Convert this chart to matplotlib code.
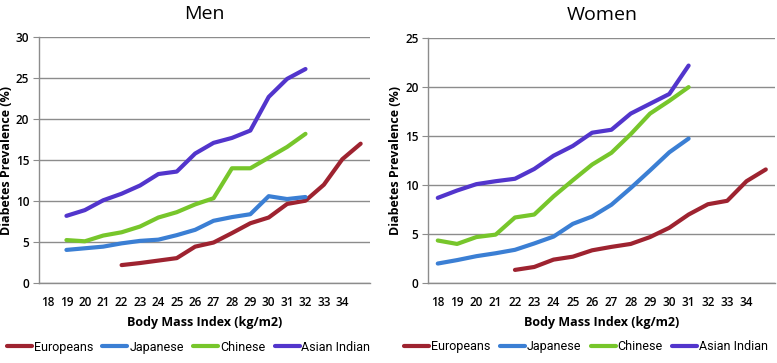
import matplotlib.pyplot as plt
import numpy as np

# BMI categories (last one has no label in the original)
bmi_labels = ['18', '19', '20', '21', '22', '23', '24', '25', '26', '27',
              '28', '29', '30', '31', '32', '33', '34', '']
groups = ['Europeans', 'Japanese', 'Chinese', 'Asian Indian']
colors = ['#9e2330', '#3b7fd4', '#77c62b', '#5235cc']

# men: values start at bmi 19 (asian groups) / 22 (europeans)
men_europeans = [2.2, 2.45, 2.75, 3.05, 4.45, 4.95, 6.1, 7.3, 8.0, 9.65, 10.05, 12.0, 15.1, 17.0]
men_japanese = [4.05, 4.25, 4.45, 4.85, 5.15, 5.3, 5.85, 6.5, 7.6, 8.05, 8.4, 10.6, 10.25, 10.5]
men_chinese = [5.25, 5.1, 5.8, 6.2, 6.9, 8.0, 8.65, 9.6, 10.35, 14.0, 14.0, 15.3, 16.6, 18.2]
men_asian_indian = [8.2, 8.9, 10.1, 10.9, 11.9, 13.3, 13.6, 15.8, 17.1, 17.7, 18.6, 22.7, 24.9, 26.1]

# women: values start at bmi 18 (asian groups) / 22 (europeans)
women_europeans = [1.35, 1.65, 2.4, 2.7, 3.35, 3.7, 4.0, 4.7, 5.65, 7.0, 8.05, 8.4, 10.4, 11.6]
women_japanese = [2.0, 2.35, 2.75, 3.05, 3.4, 4.05, 4.75, 6.05, 6.8, 8.0, 9.7, 11.5, 13.35, 14.75]
women_chinese = [4.35, 4.0, 4.7, 4.95, 6.7, 7.0, 8.85, 10.5, 12.1, 13.3, 15.2, 17.3, 18.6, 20.0]
women_asian_indian = [8.7, 9.45, 10.1, 10.4, 10.65, 11.65, 13.0, 14.0, 15.35, 15.65, 17.3, 18.3, 19.3, 22.2]

men = [(4, men_europeans), (1, men_japanese), (1, men_chinese), (1, men_asian_indian)]
women = [(4, women_europeans), (0, women_japanese), (0, women_chinese), (0, women_asian_indian)]

fig = plt.figure(figsize=(7.77, 3.63), dpi=100)
ax_men = fig.add_axes([0.050, 0.220, 0.426, 0.678])
ax_women = fig.add_axes([0.551, 0.220, 0.447, 0.675])

grid_col = '#8c8c8c'


def draw(ax, series, title, ymax, legend_x):
    for (start, vals), name, col in zip(series, groups, colors):
        x = np.arange(start, start + len(vals))
        ax.plot(x, vals, color=col, lw=3.0, solid_capstyle='round',
                solid_joinstyle='round', label=name)
    ax.set_xlim(-0.5, len(bmi_labels) - 0.5)
    ax.set_ylim(0, ymax)
    ax.set_yticks(np.arange(0, ymax + 1, 5))
    ax.set_xticks(np.arange(len(bmi_labels)))
    ax.set_xticklabels(bmi_labels)
    ax.yaxis.grid(True, color=grid_col, lw=1.0)
    ax.set_axisbelow(True)
    for s in ['top', 'right']:
        ax.spines[s].set_visible(False)
    for s in ['left', 'bottom']:
        ax.spines[s].set_color(grid_col)
        ax.spines[s].set_linewidth(1.0)
    ax.tick_params(axis='x', length=0, pad=9, labelsize=8.5)
    ax.tick_params(axis='y', length=4, color=grid_col, labelsize=8.5, pad=3)
    for lab in ax.get_xticklabels() + ax.get_yticklabels():
        lab.set_fontweight('semibold')
        lab.set_family('Open Sans')
    ax.set_title(title, fontsize=14, pad=13, family='Open Sans')
    ax.set_xlabel('Body Mass Index (kg/m2)', fontsize=9, fontweight='bold',
                  family='Open Sans', labelpad=5)
    ax.set_ylabel('Diabetes Prevalence (%)', fontsize=9, fontweight='bold',
                  family='Open Sans', labelpad=2)
    ax.legend(loc='center left', bbox_to_anchor=(legend_x, -0.26), ncol=4,
              frameon=False, handlelength=2.0, handletextpad=0.15,
              columnspacing=0.75, borderaxespad=0, borderpad=0,
              prop={'family': 'Roboto', 'size': 9})


draw(ax_men, men, 'Men', 30, -0.097)
draw(ax_women, women, 'Women', 25, -0.069)

fig.savefig('out.png', dpi=100)
